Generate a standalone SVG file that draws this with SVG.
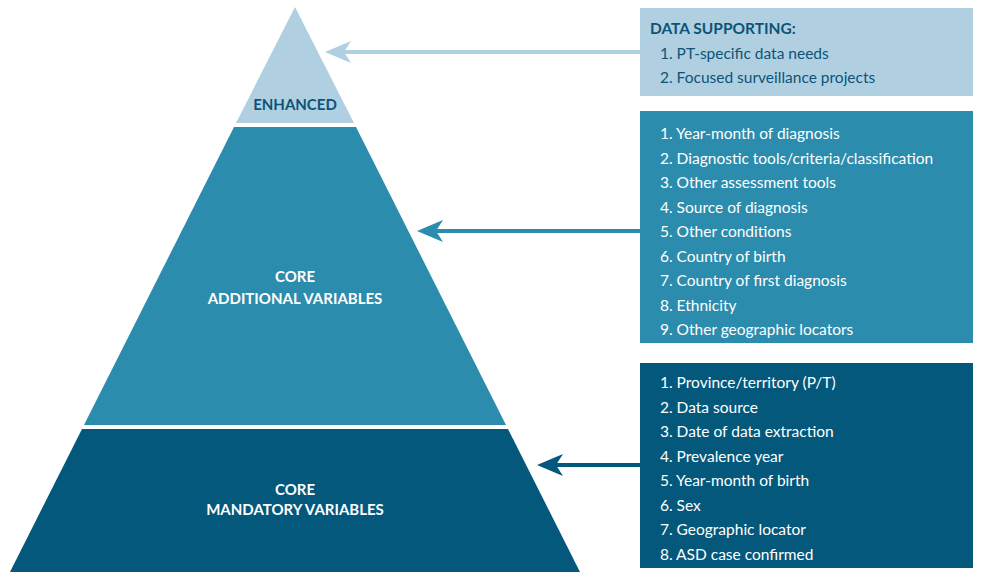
<svg xmlns="http://www.w3.org/2000/svg" width="982" height="580" viewBox="0 0 982 580">
<style>
text{font-family:Lato,"Liberation Sans",sans-serif;font-size:15.5px}
.lab{font-weight:bold;text-anchor:middle;font-size:15px}
.w{fill:#fff}
.d{fill:#0b5478}
</style>
<defs>
<marker id="a1" markerWidth="10" markerHeight="10" refX="1" refY="5" orient="auto" markerUnits="userSpaceOnUse"><path d="M0,5 L0,0"/></marker>
</defs>
<rect width="982" height="580" fill="#fff"/>
<g id="enhanced"><polygon points="295,7 354,123 236,123" fill="#b0d0e2"/><text class="lab d" x="295" y="110">ENHANCED</text></g>
<g id="additional"><polygon points="234,127 356,127 506,425 84,425" fill="#2b8cad"/><text class="lab w" x="295" y="282">CORE</text><text class="lab w" x="295" y="304">ADDITIONAL VARIABLES</text></g>
<g id="mandatory"><polygon points="82,429 508,429 580,572 10,572" fill="#03587b"/><text class="lab w" x="295" y="495">CORE</text><text class="lab w" x="295" y="515">MANDATORY VARIABLES</text></g>
<g id="connectors">
<line x1="640" y1="52" x2="340" y2="52" stroke="#b0d0e2" stroke-width="4"/><polygon points="325,52 351,41 344,52 351,63" fill="#b0d0e2"/>
<line x1="640" y1="231" x2="432" y2="231" stroke="#2b8cad" stroke-width="4"/><polygon points="417,231 443,220 436,231 443,242" fill="#2b8cad"/>
<line x1="640" y1="465" x2="552" y2="465" stroke="#03587b" stroke-width="4"/><polygon points="537,465 563,454 556,465 563,476" fill="#03587b"/>
</g>
<g id="box1"><rect x="640" y="8" width="333" height="88" fill="#b0d0e2"/>
<text class="d" x="650" y="34" font-weight="bold">DATA SUPPORTING:</text>
<text class="d" x="660" y="59">1.  PT-specific data needs</text>
<text class="d" x="660" y="83">2.  Focused surveillance projects</text></g>
<g id="box2"><rect x="640" y="111" width="333" height="232" fill="#2b8cad"/>
<g class="w">
<text x="660" y="139">1.  Year-month of diagnosis</text>
<text x="660" y="163.5">2.  Diagnostic tools/criteria/classification</text>
<text x="660" y="188">3.  Other assessment tools</text>
<text x="660" y="212.5">4.  Source of diagnosis</text>
<text x="660" y="237">5.  Other conditions</text>
<text x="660" y="261.5">6.  Country of birth</text>
<text x="660" y="286">7.  Country of first diagnosis</text>
<text x="660" y="310.5">8.  Ethnicity</text>
<text x="660" y="335">9.  Other geographic locators</text>
</g></g>
<g id="box3"><rect x="640" y="363" width="333" height="205" fill="#03587b"/>
<g class="w">
<text x="660" y="388">1.  Province/territory (P/T)</text>
<text x="660" y="412.5">2.  Data source</text>
<text x="660" y="437">3.  Date of data extraction</text>
<text x="660" y="461.5">4.  Prevalence year</text>
<text x="660" y="486">5.  Year-month of birth</text>
<text x="660" y="510.5">6.  Sex</text>
<text x="660" y="535">7.  Geographic locator</text>
<text x="660" y="559.5">8.  ASD case confirmed</text>
</g></g>
</svg>
